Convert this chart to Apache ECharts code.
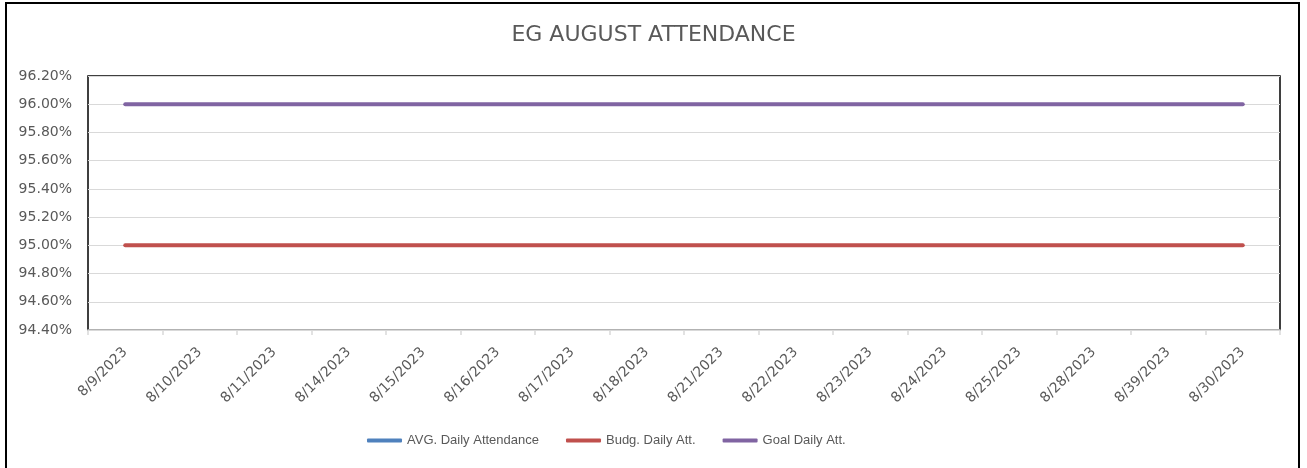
<!DOCTYPE html>
<html>
<head>
<meta charset="utf-8">
<script src="https://cdn.jsdelivr.net/npm/echarts@6/dist/echarts.min.js"></script>
<style>
html,body{margin:0;padding:0;background:#fff;}
#chart{width:1307px;height:468px;}
</style>
</head>
<body>
<div id="chart"></div>
<script>
const titleText = 'EG AUGUST ATTENDANCE';
const categories = ['8/9/2023','8/10/2023','8/11/2023','8/14/2023','8/15/2023','8/16/2023','8/17/2023','8/18/2023','8/21/2023','8/22/2023','8/23/2023','8/24/2023','8/25/2023','8/28/2023','8/39/2023','8/30/2023'];
const seriesNames = ['AVG. Daily Attendance','Budg. Daily Att.','Goal Daily Att.'];
const avgDaily = [null,null,null,null,null,null,null,null,null,null,null,null,null,null,null,null];
const budgDaily = [95.00,95.00,95.00,95.00,95.00,95.00,95.00,95.00,95.00,95.00,95.00,95.00,95.00,95.00,95.00,95.00];
const goalDaily = [96.00,96.00,96.00,96.00,96.00,96.00,96.00,96.00,96.00,96.00,96.00,96.00,96.00,96.00,96.00,96.00];
const yMin = 94.4, yMax = 96.2, yStep = 0.2;
const colors = ['#4F81BD','#C0504D','#8064A2'];

const chart = echarts.init(document.getElementById('chart'), null, {renderer:'canvas'});
const mk = (name, data, color) => ({
  name, type:'line', data, color,
  symbol:'none', showSymbol:false, connectNulls:false,
  lineStyle:{width:4, color, cap:'round', join:'round'},
  emphasis:{disabled:true}, animation:false
});
chart.setOption({
  animation:false,
  title:{
    text:titleText, left:'center', top:24, padding:0,
    textStyle:{fontFamily:'DejaVu Sans', fontSize:22, fontWeight:'normal', color:'#595959'}
  },
  legend:{
    left:367, top:434, padding:0, itemGap:27, itemWidth:35, itemHeight:4,
    icon:'roundRect',
    textStyle:{fontFamily:'Liberation Sans', fontSize:13, color:'#595959'},
    data:seriesNames.map((n,i)=>({name:n, itemStyle:{color:colors[i]}}))
  },
  graphic:[{
    type:'rect', shape:{x:6, y:3, width:1293, height:480},
    style:{fill:'none', stroke:'#000', lineWidth:2}, silent:true, z:-1
  }],
  grid:{
    left:88, right:27, top:76, bottom:138, containLabel:false, outerBoundsMode:'none',
    show:true, borderColor:'#000', borderWidth:1.5, backgroundColor:'transparent'
  },
  xAxis:{
    type:'category', data:categories, boundaryGap:true,
    axisLine:{show:true, lineStyle:{color:'#d9d9d9', width:1.5}},
    axisTick:{show:true, length:5, lineStyle:{color:'#d9d9d9', width:1.5}},
    axisLabel:{rotate:45, margin:20, interval:0, fontFamily:'DejaVu Sans', fontSize:14, color:'#595959'},
    splitLine:{show:false}
  },
  yAxis:{
    type:'value', min:yMin, max:yMax, interval:yStep,
    axisLine:{show:false}, axisTick:{show:false},
    axisLabel:{margin:16, fontFamily:'DejaVu Sans', fontSize:14, color:'#595959',
      formatter:v=>v.toFixed(2)+'%'},
    splitLine:{show:true, lineStyle:{color:'#d9d9d9', width:1}}
  },
  tooltip:{show:false},
  series:[
    mk(seriesNames[0], avgDaily, colors[0]),
    mk(seriesNames[1], budgDaily, colors[1]),
    mk(seriesNames[2], goalDaily, colors[2])
  ]
});
</script>
</body>
</html>
